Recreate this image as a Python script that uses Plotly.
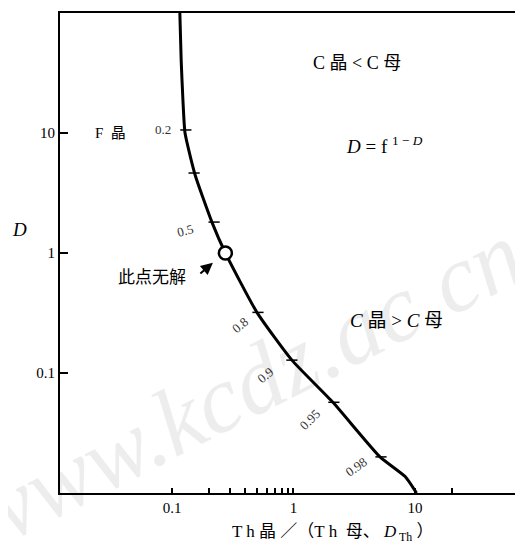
import math
import plotly.graph_objects as go

# curve: x = Th晶/(Th母·D_Th), D
curve_x = [0.116, 0.119, 0.123, 0.128, 0.155, 0.213, 0.275, 0.50, 0.97, 2.11, 5.15, 8.3, 10.3]
curve_D = [100, 40, 18.8, 10.0, 4.47, 1.81, 1.0, 0.32, 0.128, 0.057, 0.020, 0.0137, 0.010]

# F晶 tick marks along the curve
tick_F = [0.2, 0.3, 0.5, 0.8, 0.9, 0.95, 0.98]
tick_x = [0.130, 0.152, 0.222, 0.51, 0.97, 2.15, 5.25]
tick_D = [10.6, 4.64, 1.81, 0.32, 0.128, 0.057, 0.020]

# point with no solution (D = 1)
nosol_x = [0.275]
nosol_D = [1.0]

x_tickvals = [0.1, 0.2, 0.3, 0.4, 0.5, 0.6, 0.7, 0.8, 0.9, 1, 10, 20]
x_ticktext = ["0.1", "", "", "", "", "", "", "", "", "1", "10", ""]
y_tickvals = [0.1, 1, 10]
y_ticktext = ["0.1", "1", "10"]

SERIF = "Liberation Serif, DejaVu Serif, Noto Sans CJK SC"

fig = go.Figure()

fig.add_trace(go.Scatter(
    x=curve_x, y=curve_D, mode="lines", line=dict(color="black", width=3, shape="spline", smoothing=0.5),
    hoverinfo="skip"
))
fig.add_trace(go.Scatter(
    x=tick_x, y=tick_D, mode="markers", text=[str(f) for f in tick_F],
    marker=dict(symbol="line-ew", size=8, line=dict(color="black", width=1.5)),
    hoverinfo="text"
))
fig.add_trace(go.Scatter(
    x=nosol_x, y=nosol_D, mode="markers",
    marker=dict(symbol="circle", size=13, color="white", line=dict(color="black", width=2.5)),
    hoverinfo="skip"
))

# labels along the curve: text, x, D, rotation (log axes -> annotations in log10 units)
curve_labels = [
    ("0.2", 0.084, 10.6, 0),
    ("0.5", 0.128, 1.55, -15),
    ("0.8", 0.36, 0.25, -40),
    ("0.9", 0.58, 0.096, -40),
    ("0.95", 1.37, 0.0406, -45),
    ("0.98", 3.33, 0.0165, -35),
]
annots = [
    # watermark
    dict(x=0.40, y=0.225, xref="paper", yref="paper", text="<i>www.kcdz.ac.cn</i>", showarrow=False,
         xanchor="center", yanchor="middle", textangle=-27,
         font=dict(family=SERIF, size=96, color="rgba(0,0,0,0.07)")),
]
for txt, xv, yv, ang in curve_labels:
    annots.append(dict(x=math.log10(xv), y=math.log10(yv), xref="x", yref="y", text=txt,
                       showarrow=False, textangle=ang, xanchor="center", yanchor="middle",
                       font=dict(family=SERIF, size=13, color="#333")))

def paper_text(x, y, text, size=18, family=SERIF):
    return dict(x=x, y=y, xref="paper", yref="paper", text=text, showarrow=False,
                xanchor="center", yanchor="middle", font=dict(family=family, size=size, color="black"))

annots += [
    dict(x=math.log10(0.031), y=1.0, xref="x", yref="y", text="F  晶", showarrow=False,
         xanchor="center", yanchor="middle", font=dict(family=SERIF, size=15, color="black")),
    paper_text(0.643, 0.896, "C 晶 &lt; C 母"),
    paper_text(0.703, 0.725, "<i>D</i> = f <sup>1 − <i>D</i></sup>", size=19),
    paper_text(0.729, 0.36, "<i>C</i> 晶 &gt; <i>C</i> 母", size=19),
    paper_text(0.199, 0.454, "此点无解", size=17, family="Noto Sans CJK SC"),
    paper_text(-0.087, 0.548, "<i>D</i>", size=19),
    paper_text(0.589, -0.083, "T h 晶 ／（T h  母、 <i>D</i><sub> Th</sub> ）", size=17),
    dict(x=math.log10(0.217), y=math.log10(0.83), xref="x", yref="y", text="", showarrow=True,
         arrowhead=2, arrowsize=1.2, arrowwidth=2, ax=-14, ay=12, arrowcolor="black"),
]

fig.update_layout(
    width=515, height=551,
    margin=dict(l=52, r=1, t=5, b=66),
    paper_bgcolor="white", plot_bgcolor="white",
    showlegend=False,
    font=dict(family=SERIF, size=14, color="black"),
    xaxis=dict(type="log", range=[-1.922, 1.881], showgrid=False, zeroline=False,
               showline=True, mirror=True, linecolor="black", linewidth=2,
               ticks="inside", ticklen=5, tickwidth=1.5, tickcolor="black",
               tickvals=x_tickvals, ticktext=x_ticktext,
               tickfont=dict(family=SERIF, size=15, color="black")),
    yaxis=dict(type="log", range=[-2, 2], showgrid=False, zeroline=False,
               showline=True, mirror=False, linecolor="black", linewidth=2,
               ticks="inside", ticklen=8, tickwidth=2, tickcolor="black",
               tickvals=y_tickvals, ticktext=y_ticktext,
               tickfont=dict(family=SERIF, size=15, color="black")),
    shapes=[dict(type="line", xref="paper", yref="paper", x0=1, x1=1, y0=0, y1=1,
                 line=dict(color="#bbb", width=1))],
    annotations=annots,
)

fig.write_html("out.html")
